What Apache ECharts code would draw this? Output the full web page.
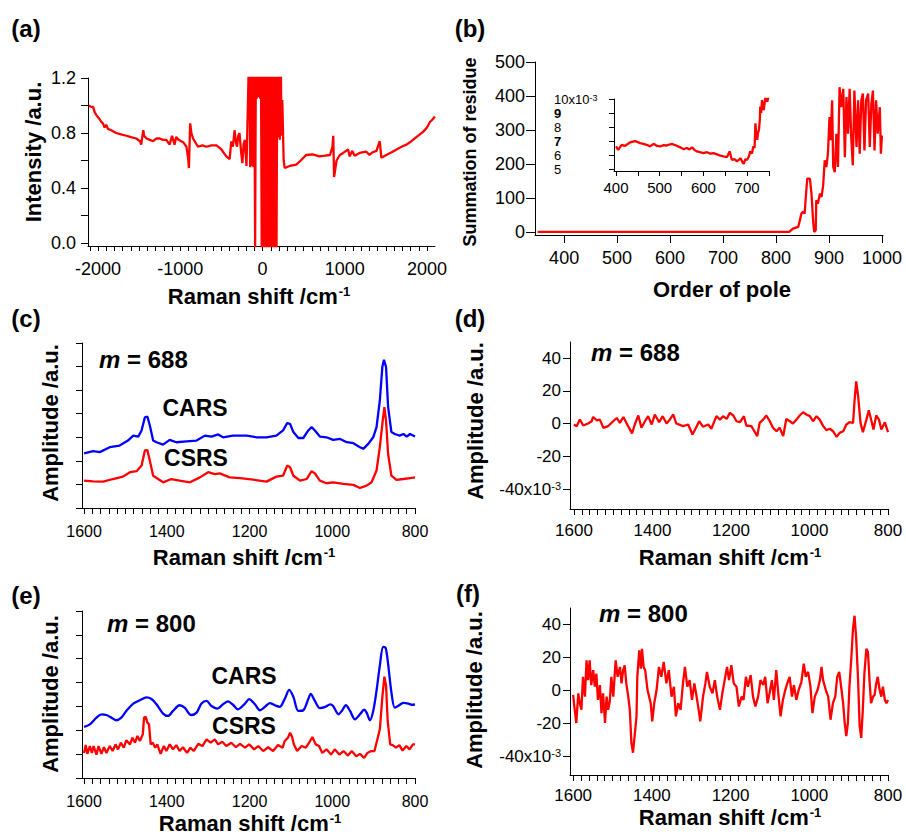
<!DOCTYPE html>
<html><head><meta charset="utf-8">
<script src="https://cdn.jsdelivr.net/npm/echarts@6/dist/echarts.min.js"></script>
<style>html,body{margin:0;padding:0;background:#fff}#c{width:906px;height:836px}</style>
</head><body><div id="c"></div>
<script>
// ---------- DATA ----------
// (a) spectrum intensity vs Raman shift
const aX = [-2110,-2085,-2060,-2040,-2020,-1980,-1960,-1940,-1920,-1900,-1880,-1840,-1780,-1720,-1655,-1600,-1535,-1490,-1475,-1450,-1440,-1410,-1370,-1330,-1290,-1250,-1210,-1170,-1130,-1100,-1070,-1050,-1020,-990,-960,-925,-905,-895,-880,-865,-845,-785,-730,-683,-620,-560,-500,-440,-400,-380,-360,-340,-325,-310,-295,-280,-260,-245,-230,-215,-195,-175,
  -160,-150,-140,-130,-120,-110,-100,-90,-80,-70,-60,-50,-40,-30,-20,-10,0,10,20,30,40,50,60,70,80,90,100,110,120,130,140,150,160,170,180,190,200,210,220,230,240,
  257,270,330,410,465,530,610,690,760,820,850,860,870,900,940,980,1040,1060,1090,1120,1180,1260,1300,1340,1385,1425,1445,1505,1570,1630,1690,1750,1810,1870,1955,2000,2035,2070,2095];
const aY = [1.00,0.99,0.99,0.95,0.93,0.90,0.88,0.87,0.84,0.86,0.83,0.82,0.80,0.79,0.78,0.77,0.76,0.74,0.715,0.82,0.78,0.76,0.75,0.74,0.76,0.76,0.75,0.75,0.715,0.78,0.715,0.77,0.75,0.74,0.73,0.70,0.62,0.545,0.87,0.80,0.76,0.70,0.71,0.70,0.71,0.71,0.68,0.63,0.61,0.74,0.70,0.82,0.74,0.70,0.78,0.80,0.66,0.58,0.72,0.75,0.56,1.08,
  1.5,0.55,1.5,0.56,1.5,0.55,1.5,-0.05,1.5,1.05,1.5,1.06,1.5,1.05,1.5,-0.05,1.5,-0.05,1.5,-0.05,1.5,-0.05,1.5,-0.05,1.5,-0.05,1.5,-0.05,1.5,-0.05,1.5,-0.05,1.5,-0.05,1.5,0.77,1.5,0.75,1.5,0.78,1.04,
  0.60,0.545,0.56,0.57,0.60,0.64,0.645,0.63,0.635,0.64,0.70,0.78,0.48,0.60,0.64,0.655,0.68,0.63,0.67,0.635,0.655,0.665,0.64,0.66,0.67,0.74,0.62,0.64,0.66,0.68,0.70,0.715,0.74,0.77,0.81,0.84,0.88,0.90,0.92];

// (b) summation of residue vs order of pole
const bX = [350,825,832,842,845,848,851,854,857,859,864,867,870,872,875,876,879,883,886,889,892,895,898,901,903,906,908,911,914,917,920,923,927,930,933,936,939,942,945,948,952,955,958,961,964,967,970,974,977,980,983,986,989,992,996,998,1000];
const bY = [0,0,10,15,34,54,59,54,118,157,157,113,34,0,5,93,83,113,103,137,211,191,230,338,270,387,191,176,289,191,426,367,421,220,397,289,421,279,196,416,250,387,230,387,407,240,387,407,250,377,416,240,387,289,367,230,284];
// (b) inset, values in units of 1e-3
const iX = [400,405,413,420,432,444,455,463,470,478,486,494,501,508,516,522,528,534,539,547,555,562,568,574,580,585,592,600,608,616,623,631,639,646,654,660,665,671,677,681,685,689,692,696,700,704,707,711,714,717,719,721,723,725,727,729,730,732,734,736,738,742,746,750];
const iY = [6.61,6.37,6.73,6.65,6.9,7.0,6.85,6.8,6.73,6.62,6.8,6.65,6.61,6.7,6.68,6.75,6.8,6.72,6.66,6.55,6.42,6.5,6.4,6.55,6.35,6.26,6.2,6.14,6.2,6.1,6.14,6.05,5.95,5.9,5.85,6.26,5.66,5.7,5.55,5.65,5.78,5.5,5.38,5.7,5.66,5.9,6.26,6.1,6.61,6.5,8.27,7.4,7.09,7.6,7.8,8.5,9.46,9.0,9.93,9.5,9.2,10.2,9.8,10.3];

// (c) m = 688
const cCarsX = [1600,1578,1562,1538,1514,1494,1481,1469,1461,1453,1447,1441,1433,1425,1409,1393,1377,1352,1328,1308,1292,1276,1264,1240,1207,1183,1159,1135,1119,1109,1102,1094,1082,1070,1058,1050,1042,1030,1014,998,981,965,949,933,925,913,901,893,885,879,875,870,865,857,849,837,828,820,812,800];
const cCarsY = [2.32,2.41,2.37,2.58,2.65,2.86,3.07,3.03,3.29,3.85,3.88,3.5,2.86,2.79,2.69,2.89,2.79,2.83,2.86,3.07,3.03,3.12,3.0,3.07,3.07,3.0,3.0,3.07,3.29,3.6,3.57,3.22,2.97,2.97,3.29,3.43,3.29,3.03,3.0,2.89,2.93,2.79,2.75,2.58,2.51,2.72,3.0,3.43,4.56,5.98,6.29,5.98,4.28,3.22,3.14,3.07,3.14,3.03,3.14,3.03];
const cCsrsX = [1600,1578,1554,1530,1506,1489,1473,1461,1453,1447,1441,1433,1421,1409,1389,1369,1344,1320,1300,1284,1272,1248,1223,1191,1159,1135,1119,1109,1102,1094,1078,1062,1050,1042,1030,1014,998,973,949,933,917,905,893,885,878,874,870,865,857,845,828,812,800];
const cCsrsY = [1.16,1.13,1.12,1.23,1.33,1.52,1.56,1.8,2.44,2.46,2.01,1.37,1.23,1.09,1.23,1.16,1.09,1.3,1.52,1.44,1.47,1.3,1.27,1.2,1.12,1.33,1.37,1.8,1.73,1.37,1.16,1.23,1.56,1.47,1.16,1.05,1.09,1.02,0.98,0.85,0.95,1.09,1.59,2.58,3.71,4.28,3.71,2.29,1.37,1.19,1.23,1.27,1.3];

// (d) residual, m = 688 (units of 1e-3)
const dX = [1600,1593,1585,1576,1564,1555,1551,1542,1534,1525,1513,1500,1491,1483,1474,1462,1452,1445,1436,1428,1419,1411,1402,1394,1383,1374,1364,1356,1347,1339,1322,1309,1298,1289,1281,1271,1258,1250,1237,1228,1220,1211,1203,1194,1186,1177,1167,1161,1148,1139,1133,1127,1118,1110,1101,1093,1084,1076,1067,1059,1050,1042,1033,1025,1016,1008,999,991,982,974,965,957,948,940,931,923,914,906,898,889,885,881,876,870,864,855,849,842,837,830,823,817,808,800];
const dY = [-0.6,-1.6,2.4,-1.2,0,1.4,4,2,2.4,-2.6,-1.6,1.4,3.4,0.4,4,-1.6,-6,-0.6,4.9,-2.6,1.4,4.5,-0.6,5.5,0.8,4.5,0,2.4,5.5,0,-1.6,-0.6,-6.7,-2.6,1.4,-2,-0.6,-3.2,4.5,2.4,4.5,2.8,6.5,4.9,1.4,0.8,4.5,-1.2,-1.6,-5.3,-7.7,0.4,2.4,4.9,1.4,-2.6,-4.7,-2.6,-7.7,2.8,1.4,0,2.4,4.9,6.9,5.5,4.5,1.4,4.5,2.4,-1.6,-4,-3.2,-4.7,-8.1,-5.7,-4.7,-0.6,0.8,0.4,14.6,25.7,16.6,0.4,-5.3,2.4,8.1,1.4,-3.6,4.9,2.4,-3.6,0.8,-5.3];

// (e) m = 800
const eCarsX = [1600,1586,1570,1558,1546,1534,1522,1510,1498,1481,1465,1449,1437,1425,1409,1397,1385,1369,1357,1341,1328,1316,1304,1292,1278,1264,1252,1240,1228,1211,1201,1187,1175,1163,1151,1139,1127,1115,1104,1094,1082,1070,1058,1052,1042,1030,1017,1005,998,985,977,967,957,945,933,923,917,909,901,893,885,877,871,865,857,849,841,828,816,808,800];
const eCarsY = [2.14,2.25,2.53,2.67,2.64,2.53,2.42,2.53,2.81,3.12,3.26,3.38,3.31,3.09,2.7,2.6,2.81,3.05,2.95,2.64,2.74,3.12,3.23,3.02,2.91,3.09,3.21,3.07,2.88,3.12,3.31,3.09,2.84,2.98,3.14,3.05,2.98,3.31,3.69,3.4,2.81,2.84,3.31,3.52,3.23,2.93,2.98,3.09,3.02,2.67,2.81,3.05,2.81,2.46,2.67,2.86,2.74,2.42,2.81,3.66,4.71,5.49,5.46,4.78,3.59,2.95,3.02,3.15,3.12,3.07,3.09];
const eCsrsX = [1600,1596,1592,1586,1581,1577,1570,1565,1558,1552,1546,1538,1531,1524,1518,1511,1504,1498,1489,1483,1477,1471,1465,1458,1455,1451,1447,1443,1439,1434,1428,1423,1415,1407,1401,1393,1385,1377,1369,1361,1351,1343,1335,1324,1314,1304,1294,1284,1276,1266,1256,1244,1233,1223,1211,1201,1189,1179,1167,1155,1143,1131,1120,1115,1107,1102,1097,1093,1085,1074,1064,1056,1048,1040,1032,1024,1014,1003,994,983,973,962,953,942,933,923,915,906,898,890,885,879,874,870,866,860,854,846,838,830,821,813,805,800];
const eCsrsY = [1.05,1.38,1.01,1.34,1.05,1.34,0.98,1.34,1.01,1.29,1.05,1.34,1.13,1.41,1.2,1.48,1.27,1.58,1.41,1.69,1.48,1.76,1.55,1.83,2.53,2.56,2.32,2.25,1.41,1.48,1.27,1.41,1.01,1.34,1.13,1.41,1.2,1.38,1.13,1.29,1.05,1.27,1.13,1.43,1.34,1.62,1.48,1.62,1.41,1.52,1.34,1.48,1.29,1.43,1.27,1.41,1.2,1.34,1.13,1.29,1.13,1.38,1.27,1.55,1.69,1.9,1.72,1.41,1.13,1.34,1.27,1.48,1.72,1.41,1.34,1.05,1.2,0.98,1.2,0.98,1.13,0.94,1.13,0.91,1.01,0.84,1.05,1.13,1.13,1.69,2.04,3.38,4.25,3.87,2.39,1.41,1.38,1.27,1.38,1.15,1.34,1.2,1.41,1.41];

// (f) residual, m = 800 (units of 1e-3)
const fX = [1600,1596,1592,1587,1583,1579,1575,1570,1566,1562,1558,1554,1549,1545,1541,1537,1532,1528,1524,1519,1515,1511,1507,1503,1498,1492,1487,1481,1477,1473,1469,1465,1460,1456,1452,1448,1443,1439,1437,1432,1428,1425,1421,1417,1411,1407,1403,1399,1394,1388,1382,1376,1370,1363,1357,1350,1344,1339,1333,1327,1321,1316,1310,1304,1298,1292,1287,1281,1277,1270,1264,1260,1253,1246,1240,1234,1227,1221,1215,1209,1204,1198,1192,1185,1179,1172,1167,1161,1156,1149,1143,1137,1130,1124,1117,1112,1106,1101,1095,1090,1084,1078,1073,1067,1061,1056,1050,1044,1039,1033,1027,1020,1014,1009,1003,997,992,986,979,973,969,965,958,952,946,940,934,929,924,918,914,910,906,902,898,893,889,885,881,876,872,868,864,860,855,851,847,843,838,834,830,826,822,817,813,808,804,800];
const fY = [-3,-12,-20,-2,-8,-12,8,-4,18,6,18,3,12,2,10,-6,3,-14,-2,-20,-4,-12,-7,8,-4,18,8,14,4,12,15,4,-4,-12,-32,-38,-26,-16,8,24,13,25,14,12,0,-4,-8,-19,-8,0,14,8,17,4,12,-4,2,-16,-8,-12,4,14,2,6,-6,4,-3,-12,-19,-4,4,11,2,-2,6,-4,-12,-2,6,14,6,15,4,2,-10,-4,-6,8,2,9,-4,-10,-4,6,3,8,-8,-2,6,-6,12,-4,-16,-6,0,4,8,-4,3,-6,0,5,16,8,11,2,-14,-4,0,6,14,6,0,-4,-18,-8,-4,8,11,0,-8,-20,-28,-20,2,20,37,45,32,6,-22,-29,-12,10,25,23,6,-8,-4,-3,4,8,1,-4,2,-6,-8,-6];

// ---------- TICKS / LABELS ----------
const aXLabels = [-2000,-1000,0,1000,2000];
const aYLabels = [0,0.4,0.8,1.2];
const bXLabels = [400,500,600,700,800,900,1000];
const bYLabels = [0,100,200,300,400,500];
const insetXLabels = [400,500,600,700];
const insetYLabels = [5,6,7,8,9,10];
const ramanLabels = [800,1000,1200,1400,1600];
const residYLabels = [-40,-20,0,20,40];
const ampTicks = [0,1,2,3,4,5,6,7];

function range(a,b,s){const r=[];for(let v=a;v<=b+1e-9;v+=s)r.push(+v.toFixed(6));return r;}
function pairs(xs,ys){return xs.map((x,i)=>[x,ys[i]]);}

const FONT = '"Liberation Sans", Arial, Helvetica, sans-serif';
const RED = '#ff0000', BLUE = '#0000ff';

function axis(type, grid, o){
  return {
    type:'value', gridIndex:grid, min:o.min, max:o.max, inverse:!!o.inverse,
    position: type==='x' ? 'bottom' : 'left',
    axisLine:{show:true, onZero:false, lineStyle:{color:'#000', width:1}},
    axisTick:{show:true, inside:false, length:o.tickLen, customValues:o.ticks, lineStyle:{color:'#000', width:1}},
    axisLabel:{show:o.labels!==null, customValues:o.labels||[], margin:o.margin, fontSize:o.fs, color:'#000',
      fontFamily:FONT, formatter:o.fmt||(v=>String(v)), rich:o.rich, hideOverlap:false,
      showMinLabel:true, showMaxLabel:true, align:o.align},
    splitLine:{show:false}, minorTick:{show:false}
  };
}
function grid(l,t,w,h){return {left:l, top:t, width:w, height:h, containLabel:false, outerBoundsMode:'none'};}
function line(xi, yi, data, color, smooth){
  return {type:'line', xAxisIndex:xi, yAxisIndex:yi, data:data, symbol:'none', showSymbol:false,
    smooth: smooth||false, clip:true, animation:false, lineStyle:{color:color, width:2.3}, itemStyle:{color:color}};
}
function txt(x,y,text,size,o){
  o=o||{};
  return {type:'text', x:x, y:y, rotation:o.rot||0, silent:true,
    style:{text:text, fill:'#000', font:(o.italic?'italic ':'')+(o.weight||'bold')+' '+size+'px '+FONT,
      align:o.align||'center', verticalAlign:'middle', rich:o.rich}};
}
const supRich = (fs)=>({n:{fontSize:fs, fontFamily:FONT, fontWeight:'bold', color:'#000'}, s:{fontSize:Math.round(fs*0.6), fontFamily:FONT, fontWeight:'bold', color:'#000', verticalAlign:'top', padding:[0,0,0,1]}});
const mRich = {i:{fontSize:24, fontStyle:'italic', fontWeight:'bold', fontFamily:FONT, color:'#000'}, n:{fontSize:24, fontWeight:'bold', fontFamily:FONT, color:'#000'}};

const residFmt = v => v===-40 ? '{n|-40x10}{s|-3}' : '{n|'+v+'}';
const residRich = {n:{fontSize:17, fontFamily:FONT, color:'#000'}, s:{fontSize:11, fontFamily:FONT, color:'#000', verticalAlign:'top'}};
const insetFmt = v => v===10 ? '{n|10x10}{s|-3}' : ((v===9||v===7) ? '{b|'+v+'}' : '{n|'+v+'}');
const insetRich = {n:{fontSize:13, lineHeight:12, fontFamily:FONT, color:'#000'}, b:{fontSize:13, lineHeight:12, fontWeight:'bold', fontFamily:FONT, color:'#000'}, s:{fontSize:9, lineHeight:12, fontFamily:FONT, color:'#000', verticalAlign:'top'}};

const ramanTicks = range(800,1600,20);

const option = {
  backgroundColor:'#fff', animation:false,
  textStyle:{fontFamily:FONT},
  grid:[
    grid(88,78,347,168),   // a
    grid(535,62,348,173),  // b
    grid(614,99,155,72),   // b inset
    grid(82,343,333,165),  // c
    grid(570,342,318,167), // d
    grid(82,611,333,167),  // e
    grid(570,608,318,167)  // f
  ],
  xAxis:[
    axis('x',0,{min:-2122,max:2097,ticks:range(-2100,2000,100),labels:aXLabels,tickLen:5,margin:14,fs:18}),
    axis('x',1,{min:345,max:1002,ticks:bXLabels,labels:bXLabels,tickLen:8,margin:14,fs:18}),
    axis('x',2,{min:395.5,max:750,ticks:range(400,750,50),labels:insetXLabels,tickLen:5,margin:9,fs:15}),
    axis('x',3,{min:800,max:1605,inverse:true,ticks:ramanTicks,labels:ramanLabels,tickLen:6,margin:15,fs:16}),
    axis('x',4,{min:800,max:1610,inverse:true,ticks:ramanTicks,labels:ramanLabels,tickLen:6,margin:13,fs:17}),
    axis('x',5,{min:800,max:1605,inverse:true,ticks:ramanTicks,labels:ramanLabels,tickLen:6,margin:15,fs:16}),
    axis('x',6,{min:800,max:1608,inverse:true,ticks:ramanTicks,labels:ramanLabels,tickLen:6,margin:12,fs:17})
  ],
  yAxis:[
    axis('y',0,{min:-0.022,max:1.2,ticks:range(0,1.2,0.2),labels:aYLabels,tickLen:7,margin:12,fs:18,fmt:v=>v.toFixed(1)}),
    axis('y',1,{min:-9,max:500,ticks:bYLabels,labels:bYLabels,tickLen:9,margin:10,fs:18}),
    axis('y',2,{min:4.86,max:10,ticks:insetYLabels,labels:insetYLabels,tickLen:5,margin:60,fs:13,fmt:insetFmt,rich:insetRich,align:'left'}),
    axis('y',3,{min:0,max:7,ticks:ampTicks,labels:null,tickLen:6,margin:8,fs:16}),
    axis('y',4,{min:-52.2,max:49.8,ticks:residYLabels,labels:residYLabels,tickLen:7,margin:9,fs:17,fmt:residFmt,rich:residRich}),
    axis('y',5,{min:0,max:7,ticks:ampTicks,labels:null,tickLen:6,margin:8,fs:16}),
    axis('y',6,{min:-51.5,max:49.7,ticks:residYLabels,labels:residYLabels,tickLen:7,margin:9,fs:17,fmt:residFmt,rich:residRich})
  ],
  series:[
    line(0,0,pairs(aX,aY),RED),
    line(1,1,pairs(bX,bY),RED),
    line(2,2,pairs(iX,iY),RED),
    line(3,3,pairs(cCarsX,cCarsY),BLUE),
    line(3,3,pairs(cCsrsX,cCsrsY),RED),
    line(4,4,pairs(dX,dY),RED),
    line(5,5,pairs(eCarsX,eCarsY),BLUE,0.3),
    line(5,5,pairs(eCsrsX,eCsrsY),RED),
    line(6,6,pairs(fX,fY),RED)
  ],
  graphic:[
    txt(26,28,'(a)',24), txt(470,28,'(b)',24), txt(26,318,'(c)',24),
    txt(470,318,'(d)',24), txt(26,595,'(e)',24), txt(468,593,'(f)',24),
    // axis titles
    txt(259,296,'{n|Raman shift /cm}{s|-1}',22,{rich:supRich(22)}),
    txt(33,152,'Intensity /a.u.',22,{rot:Math.PI/2}),
    txt(722,289,'Order of pole',22),
    txt(470,152,'Summation of residue',18,{rot:Math.PI/2}),
    txt(244,557,'{n|Raman shift /cm}{s|-1}',22,{rich:supRich(22)}),
    txt(50,423,'Amplitude /a.u.',22,{rot:Math.PI/2}),
    txt(730,557,'{n|Raman shift /cm}{s|-1}',22,{rich:supRich(22)}),
    txt(475,421,'Amplitude /a.u.',22,{rot:Math.PI/2}),
    txt(250,823,'{n|Raman shift /cm}{s|-1}',22,{rich:supRich(22)}),
    txt(50,694,'Amplitude /a.u.',22,{rot:Math.PI/2}),
    txt(730,817,'{n|Raman shift /cm}{s|-1}',22,{rich:supRich(22)}),
    txt(474,690,'Amplitude /a.u.',22,{rot:Math.PI/2}),
    // annotations
    txt(99,359,'{i|m}{n| = 688}',24,{align:'left',rich:mRich}),
    txt(591,352,'{i|m}{n| = 688}',24,{align:'left',rich:mRich}),
    txt(107,623,'{i|m}{n| = 800}',24,{align:'left',rich:mRich}),
    txt(599,613,'{i|m}{n| = 800}',24,{align:'left',rich:mRich}),
    txt(195,408,'CARS',23), txt(196,458,'CSRS',23),
    txt(244,676,'CARS',23), txt(244,726,'CSRS',23)
  ]
};
const chart = echarts.init(document.getElementById('c'), null, {renderer:'svg', width:906, height:836});
chart.setOption(option);
</script>
</body></html>
